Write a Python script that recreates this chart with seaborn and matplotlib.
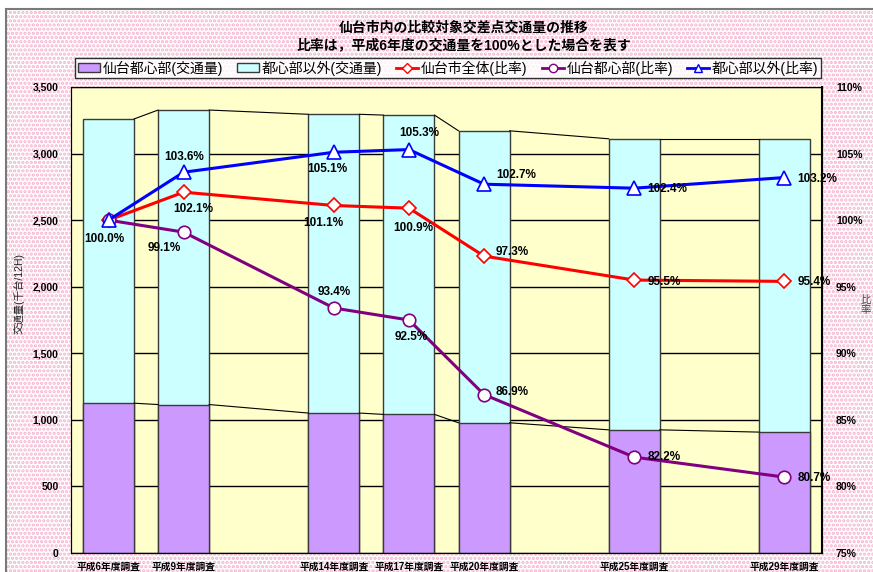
import numpy as np
import seaborn as sns
import matplotlib.pyplot as plt
from matplotlib.patches import Patch, Rectangle
from matplotlib.lines import Line2D

# survey years and their slot on the category axis (blank slots in between)
years = ["平成6年度調査", "平成9年度調査", "平成14年度調査", "平成17年度調査",
         "平成20年度調査", "平成25年度調査", "平成29年度調査"]
slots = [0, 1, 3, 4, 5, 7, 9]

# traffic volume (thousand vehicles / 12h)
core_vol = [1125, 1115, 1051, 1041, 978, 925, 908]
outer_vol = [2135, 2212, 2244, 2248, 2193, 2186, 2203]

# ratios vs H6 (%)
ratio_total = [100.0, 102.1, 101.1, 100.9, 97.3, 95.5, 95.4]
ratio_core = [100.0, 99.1, 93.4, 92.5, 86.9, 82.2, 80.7]
ratio_outer = [100.0, 103.6, 105.1, 105.3, 102.7, 102.4, 103.2]

total_vol = [c + o for c, o in zip(core_vol, outer_vol)]

plt.rcParams['font.family'] = ['Liberation Sans', 'Noto Sans CJK JP', 'DejaVu Sans']
plt.rcParams['hatch.linewidth'] = 1.6

fig = plt.figure(figsize=(8.73, 5.72), dpi=100)

# dotted pink background + frame
fig.add_artist(Rectangle((6 / 873, 0), 1, 1 - 9 / 572, transform=fig.transFigure,
                         facecolor='white', edgecolor='#f6b3cf', hatch='....', lw=0, zorder=-10))
fig.add_artist(Rectangle((6 / 873, -0.05), 1.1, 1.05 - 9 / 572, transform=fig.transFigure,
                         fill=False, edgecolor='#7a7a7a', lw=1.5, zorder=-5))

ax = fig.add_axes([71 / 873, 1 - 553 / 572, 751 / 873, 466 / 572])
ax.set_facecolor('#ffffcc')

bw = 0.68
sns.barplot(x=slots, y=total_vol, native_scale=True, width=bw, color='#ccffff',
            edgecolor='#3a3a3a', linewidth=1, saturation=1, errorbar=None, ax=ax, zorder=2)
sns.barplot(x=slots, y=core_vol, native_scale=True, width=bw, color='#cc99ff',
            edgecolor='#3a3a3a', linewidth=1, saturation=1, errorbar=None, ax=ax, zorder=2)

# series lines between bars
for i in range(len(slots) - 1):
    for v in (total_vol, core_vol):
        ax.plot([slots[i] + bw / 2, slots[i + 1] - bw / 2], [v[i], v[i + 1]],
                color='black', lw=0.8, zorder=3)

ax.set_xlim(-0.5, 9.5)
ax.set_ylim(0, 3500)
ax.set_yticks(np.arange(0, 3501, 500))
ax.set_yticklabels([f"{t:,}" for t in range(0, 3501, 500)], fontsize=7.5, fontweight='bold')
ax.set_xticks(slots)
ax.set_xticklabels(years, fontsize=7, fontweight='bold')
ax.tick_params(axis='y', length=0, pad=9)
ax.tick_params(axis='x', length=0, pad=6)
ax.yaxis.grid(True, color='black', lw=1)
ax.set_axisbelow(True)
ax.set_xlabel("")
ax.set_ylabel("")
for s in ['left', 'bottom']:
    ax.spines[s].set_color('black')
ax.spines['top'].set_color('#555555')
ax.spines['right'].set_color('#555555')

ax2 = ax.twinx()
sns.lineplot(x=slots, y=ratio_total, ax=ax2, color='#ff0000', lw=2.2, marker='D', ms=7,
             mfc='white', mec='#ff0000', mew=1.2, zorder=4)
sns.lineplot(x=slots, y=ratio_core, ax=ax2, color='#800080', lw=2.2, marker='o', ms=9,
             mfc='white', mec='#800080', mew=1.2, zorder=4)
sns.lineplot(x=slots, y=ratio_outer, ax=ax2, color='#0000ff', lw=2.2, marker='^', ms=10,
             mfc='white', mec='#0000ff', mew=1.2, zorder=5)
ax2.set_ylim(75, 110)
ax2.set_yticks(np.arange(75, 111, 5))
ax2.set_yticklabels([f"{t}%" for t in range(75, 111, 5)], fontsize=7.5, fontweight='bold')
ax2.tick_params(axis='y', length=0, pad=10)
ax2.set_ylabel("")
ax2.spines['right'].set_color('black')
ax2.spines['right'].set_linewidth(1.5)

# data label offsets in pixels (dx, dy, ha)
off_total = [(-4, -19, 'center'), (10, -17, 'center'), (-11, -18, 'center'), (4, -20, 'center'),
             (12, 4, 'left'), (13, -2, 'left'), (13, -1, 'left')]
off_core = [None, (-19, -16, 'center'), (0, 16, 'center'), (2, -17, 'center'),
            (12, 3, 'left'), (13, 0, 'left'), (13, -1, 'left')]
off_outer = [None, (0, 15, 'center'), (-7, -17, 'center'), (10, 17, 'center'),
             (12, 9, 'left'), (13, -1, 'left'), (13, -1, 'left')]
for vals, offs in ((ratio_total, off_total), (ratio_core, off_core), (ratio_outer, off_outer)):
    for x, v, o in zip(slots, vals, offs):
        if o is None:
            continue
        ax2.annotate(f"{v:.1f}%", (x, v), xytext=(o[0], o[1]), textcoords='offset pixels',
                     ha=o[2], va='center', fontsize=8.5, fontweight='bold', zorder=6)

# titles / axis titles
fig.text(464 / 873, 1 - 28 / 572, "仙台市内の比較対象交差点交通量の推移", ha='center', va='center',
         fontsize=10, fontweight='bold')
fig.text(464 / 873, 1 - 45 / 572, "比率は，平成6年度の交通量を100%とした場合を表す", ha='center',
         va='center', fontsize=10, fontweight='bold')
fig.text(19 / 873, 1 - 294 / 572, "交通量(千台/12H)", rotation=90, ha='center', va='center',
         fontsize=7.5, color='#222222')
fig.text(871 / 873, 1 - 305 / 572, "比\n率", ha='right', va='center', fontsize=7.5,
         color='#444444', linespacing=1.0)

handles = [
    Patch(facecolor='#cc99ff', edgecolor='#3a3a3a'),
    Patch(facecolor='#ccffff', edgecolor='#3a3a3a'),
    Line2D([], [], color='#ff0000', lw=2, marker='D', ms=5, mfc='white', mec='#ff0000'),
    Line2D([], [], color='#800080', lw=2, marker='o', ms=6, mfc='white', mec='#800080'),
    Line2D([], [], color='#0000ff', lw=2, marker='^', ms=6, mfc='white', mec='#0000ff'),
]
labels = ["仙台都心部(交通量)", "都心部以外(交通量)", "仙台市全体(比率)", "仙台都心部(比率)", "都心部以外(比率)"]
leg = fig.legend(handles, labels, loc='center', bbox_to_anchor=(448 / 873, 1 - 68 / 572), ncol=5,
                 frameon=True, fancybox=False, edgecolor='black', fontsize=10, handlelength=1.6,
                 handleheight=0.6, columnspacing=1.0, handletextpad=0.2, borderpad=0.2,
                 borderaxespad=0)
leg.get_frame().set_linewidth(1.0)

fig.savefig("out.png", dpi=100)
